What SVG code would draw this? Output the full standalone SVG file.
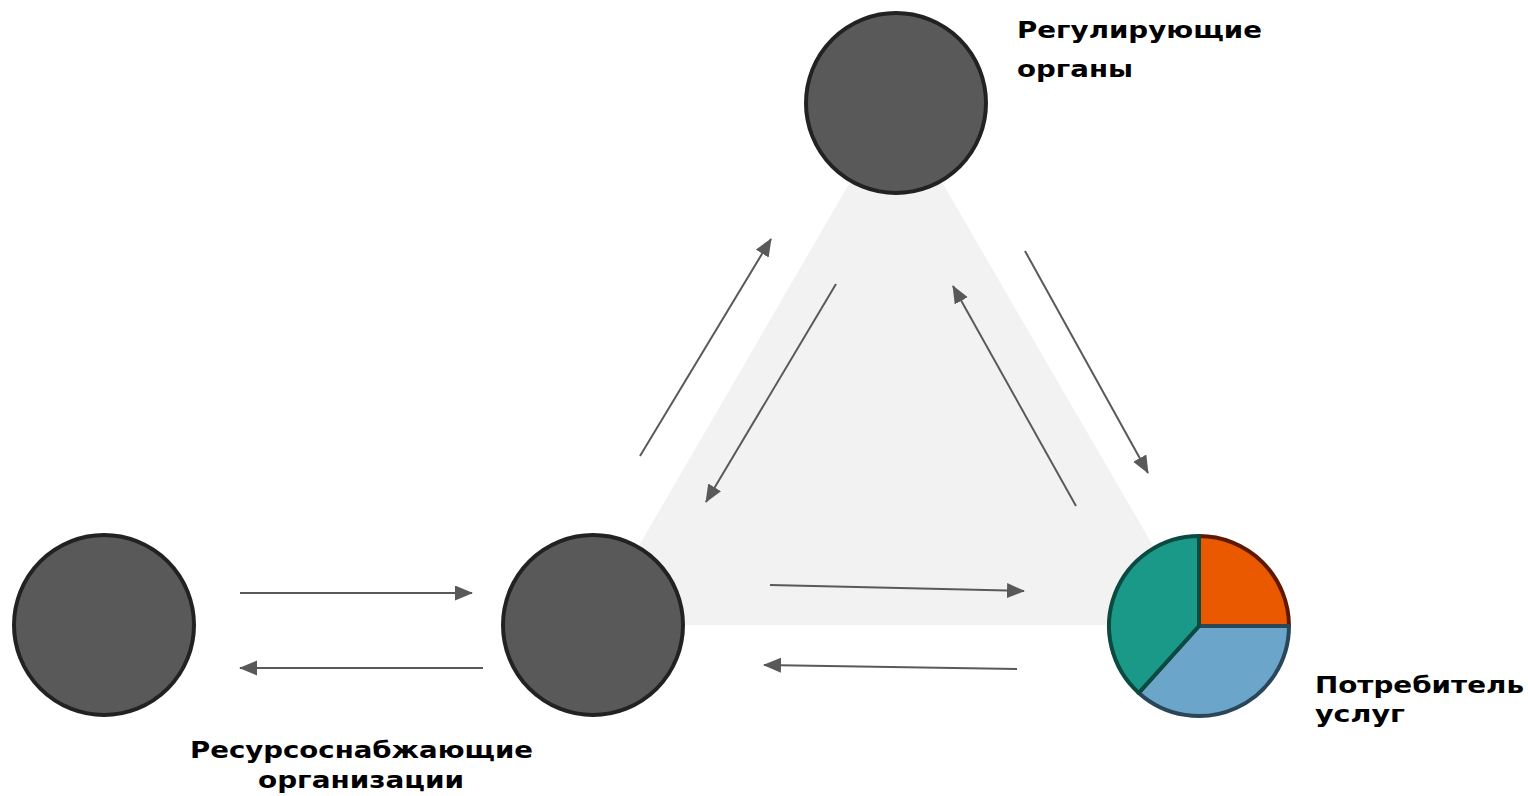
<svg xmlns="http://www.w3.org/2000/svg" width="1528" height="796" viewBox="0 0 1528 796">
<defs>
<style>
.node{fill:#595959;stroke:#222222;stroke-width:4}
.lbl{font-family:"DejaVu Sans","Liberation Sans",sans-serif;font-weight:bold;font-size:23px;fill:#000}
.conn{stroke:#595959;stroke-width:2;fill:none;marker-end:url(#ah)}
</style>
<marker id="ah" markerUnits="userSpaceOnUse" markerWidth="18" markerHeight="16" refX="17" refY="7.5" orient="auto">
<path d="M0,0 L18,7.5 L0,15 Z" fill="#595959"/>
</marker>
</defs>
<rect width="1528" height="796" fill="#ffffff"/>
<polygon id="triangle" points="896,103 593,625 1199,625" fill="#f2f2f2"/>
<g id="regulators">
<circle class="node" cx="896" cy="103" r="90"/>
<text class="lbl" x="1017" y="38" textLength="245" lengthAdjust="spacingAndGlyphs">Регулирующие</text>
<text class="lbl" x="1017" y="77" textLength="116" lengthAdjust="spacingAndGlyphs">органы</text>
</g>
<g id="resource">
<circle class="node" cx="104" cy="625" r="90"/>
</g>
<g id="middle">
<circle class="node" cx="593" cy="625" r="90"/>
<text class="lbl" x="190" y="758" textLength="343" lengthAdjust="spacingAndGlyphs">Ресурсоснабжающие</text>
<text class="lbl" x="258" y="788" textLength="206" lengthAdjust="spacingAndGlyphs">организации</text>
</g>
<g id="consumer">
<path d="M1199,626 L1199,536 A90,90 0 0 1 1289,626 Z" fill="#ea5800" stroke="#5e1a00" stroke-width="4" stroke-linejoin="round"/>
<path d="M1199,626 L1289,626 A90,90 0 0 1 1138.8,692.9 Z" fill="#6ba5ca" stroke="#2a4659" stroke-width="4" stroke-linejoin="round"/>
<path d="M1199,626 L1138.8,692.9 A90,90 0 0 1 1199,536 Z" fill="#1a9988" stroke="#0b4a40" stroke-width="4" stroke-linejoin="round"/>
<text class="lbl" x="1315" y="693" textLength="209" lengthAdjust="spacingAndGlyphs">Потребитель</text>
<text class="lbl" x="1315" y="722" textLength="90" lengthAdjust="spacingAndGlyphs">услуг</text>
</g>
<g id="connectors">
<line class="conn" x1="240" y1="593" x2="472" y2="593"/>
<line class="conn" x1="483" y1="668" x2="240" y2="668"/>
<line class="conn" x1="770" y1="585" x2="1024" y2="591"/>
<line class="conn" x1="1017" y1="669" x2="764" y2="665"/>
<line class="conn" x1="640" y1="456" x2="771" y2="239"/>
<line class="conn" x1="836" y1="284" x2="706" y2="502"/>
<line class="conn" x1="1076" y1="506" x2="953" y2="286"/>
<line class="conn" x1="1025" y1="251" x2="1148" y2="473"/>
</g>
</svg>
